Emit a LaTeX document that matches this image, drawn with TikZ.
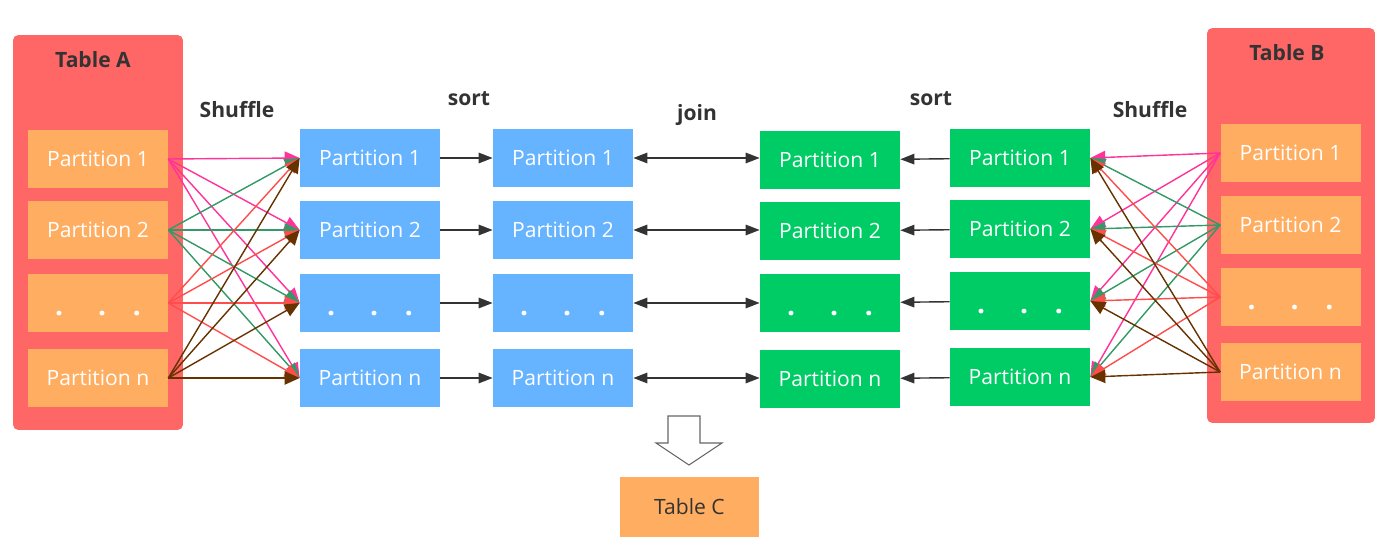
\documentclass[tikz,border=0pt]{standalone}
\usepackage{fontspec}
\setmainfont{Open Sans}
\usetikzlibrary{positioning,arrows.meta}
\definecolor{tblred}{HTML}{FF6666}
\definecolor{partorange}{HTML}{FFAD60}
\definecolor{partblue}{HTML}{66B3FF}
\definecolor{partgreen}{HTML}{00CC66}
\definecolor{lpink}{HTML}{FF3399}
\definecolor{lgreen}{HTML}{339966}
\definecolor{lred}{HTML}{FF4D4D}
\definecolor{lbrown}{HTML}{663300}
\definecolor{txtgray}{HTML}{333333}

\tikzset{
  tbl/.style={rectangle,rounded corners=3pt,fill=tblred,minimum width=3.4cm,minimum height=7.9cm},
  ttl/.style={font=\fontsize{12}{14}\selectfont\bfseries,text=txtgray},
  part/.style={rectangle,text=white,minimum width=2.8cm,minimum height=1.16cm,inner sep=0pt,font=\fontsize{12}{14}\selectfont},
  shuf/.style={line width=0.8pt,-{Triangle[length=8.5pt,width=7.5pt]}},
  flow/.style={line width=0.8pt,draw=txtgray,-{Triangle[length=8pt,width=6pt]}},
  both/.style={line width=0.8pt,draw=txtgray,{Triangle[length=8pt,width=6pt]}-{Triangle[length=8pt,width=6pt]}}
}
\newcommand{\pdots}{\smash{\raisebox{-7pt}{\fontsize{16}{16}\selectfont\bfseries .\hspace{1.25em}.\hspace{0.95em}.}}}

\begin{document}
\begin{tikzpicture}[x=0.02cm,y=-0.02cm]
\useasboundingbox (0,0) rectangle (1400,546);
% the two input tables
\node[tbl] (tA) at (98,232.5) {};
\node[ttl] (tAname) at (93,60) {Table A};
\node[tbl,minimum width=3.36cm] (tB) at (1291,225.5) {};
\node[ttl] (tBname) at (1287,53) {Table B};
% stage labels
\node[ttl] (shufA) at (237,110) {Shuffle};
\node[ttl] (sortA) at (469,99) {sort};
\node[ttl] (joinAB) at (697,115) {join};
\node[ttl] (sortB) at (931,99) {sort};
\node[ttl] (shufB) at (1150,110) {Shuffle};
% partitions of every column
\foreach \i/\txt in {1/Partition 1,2/Partition 2,3/\pdots,4/Partition n} {
  \pgfmathsetmacro{\ya}{{159,230,303,378}[\i-1]}
  \pgfmathsetmacro{\yb}{{158,230,303,378}[\i-1]}
  \pgfmathsetmacro{\yc}{{160,231,303,379}[\i-1]}
  \pgfmathsetmacro{\yd}{{158,229,301,377}[\i-1]}
  \pgfmathsetmacro{\ye}{{153,225,297,372}[\i-1]}
  \node[part,fill=partorange] (a\i) at (98,\ya) {\txt};
  \node[part,fill=partblue] (s\i) at (370,\yb) {\txt};
  \node[part,fill=partblue] (t\i) at (563,\yb) {\txt};
  \node[part,fill=partgreen] (u\i) at (830,\yc) {\txt};
  \node[part,fill=partgreen] (v\i) at (1020,\yd) {\txt};
  \node[part,fill=partorange] (b\i) at (1290.5,\ye) {\txt};
}
% shuffle A and B
\foreach \i/\c in {1/lpink,2/lgreen,3/lred,4/lbrown}
  \foreach \j in {1,...,4} {
    \draw[shuf,draw=\c,fill=\c] (a\i.east) -- (s\j.west);
    \draw[shuf,draw=\c,fill=\c] (b\i.west) -- (v\j.east);
  }
% sort and join
\foreach \i in {1,...,4} {
  \draw[flow] (s\i) -- (t\i);
  \draw[flow] (v\i) -- (u\i);
  \draw[both] (t\i.east) -- (u\i.west |- t\i.east);
}
% result
\draw[draw=black!60,line width=0.6pt,fill=white] (668,416) -- (700,416) -- (700,443) -- (722,443)
  -- (689,465) -- (656,443) -- (668,443) -- cycle;
\node[part,fill=partorange,text=txtgray,minimum height=1.2cm] (tC) at (689.5,507) {Table C};
\end{tikzpicture}
\end{document}
